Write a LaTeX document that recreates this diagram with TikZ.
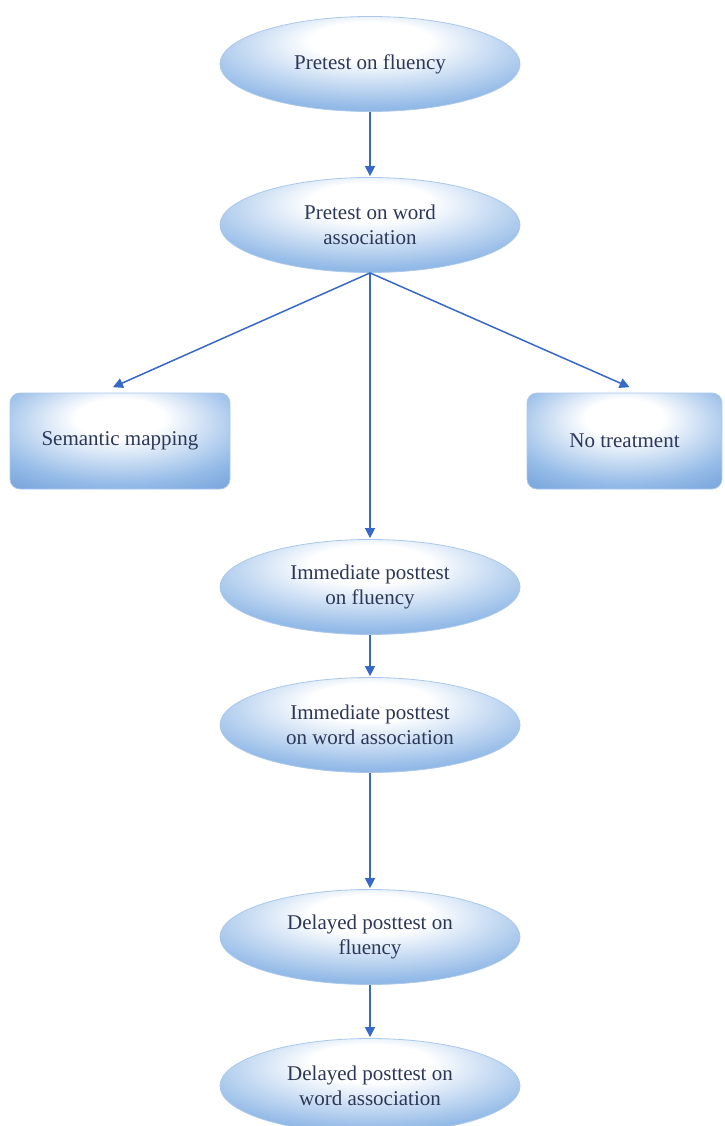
\documentclass[tikz,border=0pt]{standalone}
\usepackage{fontspec}
\setmainfont{Liberation Serif}
\usetikzlibrary{shapes.geometric,arrows.meta}

\definecolor{glowblue}{RGB}{84,138,204}
\definecolor{midblue}{RGB}{150,188,232}
\definecolor{rimblue}{RGB}{170,200,234}
\definecolor{arrowblue}{RGB}{55,105,200}
\definecolor{inkblue}{RGB}{45,55,88}

% soft highlight sitting slightly above the centre of each shape
\pgfdeclareradialshading{ovalglow}{\pgfpoint{0bp}{14bp}}{%
  color(0bp)=(white); color(10bp)=(white); color(30bp)=(midblue); color(50bp)=(glowblue); color(70bp)=(glowblue)}

\tikzset{
  labeltext/.style={text=inkblue, align=center, font=\fontsize{21}{25}\selectfont},
  oval/.style={ellipse, labeltext, minimum width=300pt, minimum height=95pt, inner sep=0pt,
    shading=ovalglow, draw=rimblue, line width=0.8pt},
  groupbox/.style={rectangle, rounded corners=10pt, labeltext, minimum height=96pt, inner sep=0pt,
    shading=ovalglow, draw=rimblue, line width=0.8pt},
  flow/.style={draw=arrowblue, line width=1.5pt,
    -{Triangle[length=10pt,width=10pt]}, shorten >=1pt}
}

\begin{document}
\begin{tikzpicture}[x=1pt,y=-1pt]
  \useasboundingbox (0,0) rectangle (724,1126);

  \node[oval] (pf) at (370,64) {Pretest on fluency};
  \node[oval] (pw) at (370,225) {Pretest on word\\association};
  \node[groupbox, minimum width=220pt] (sm) at (120,441) {Semantic mapping};
  \node[groupbox, minimum width=195pt] (nt) at (624.5,441) {No treatment};
  \node[oval] (ipf) at (370,587) {Immediate posttest\\on fluency};
  \node[oval] (ipw) at (370,725) {Immediate posttest\\on word association};
  \node[oval] (dpf) at (370,937) {Delayed posttest on\\fluency};
  \node[oval] (dpw) at (370,1086) {Delayed posttest on\\word association};

  \draw[flow] (pf.south) -- (pw.north);
  \draw[flow] (pw.south) -- ([shift={(-8,-5)}]sm.north);
  \draw[flow] (pw.south) -- ([shift={(6,-5)}]nt.north);
  \draw[flow] (pw.south) -- (ipf.north);
  \draw[flow] (ipf.south) -- (ipw.north);
  \draw[flow] (ipw.south) -- (dpf.north);
  \draw[flow] (dpf.south) -- (dpw.north);
\end{tikzpicture}
\end{document}
